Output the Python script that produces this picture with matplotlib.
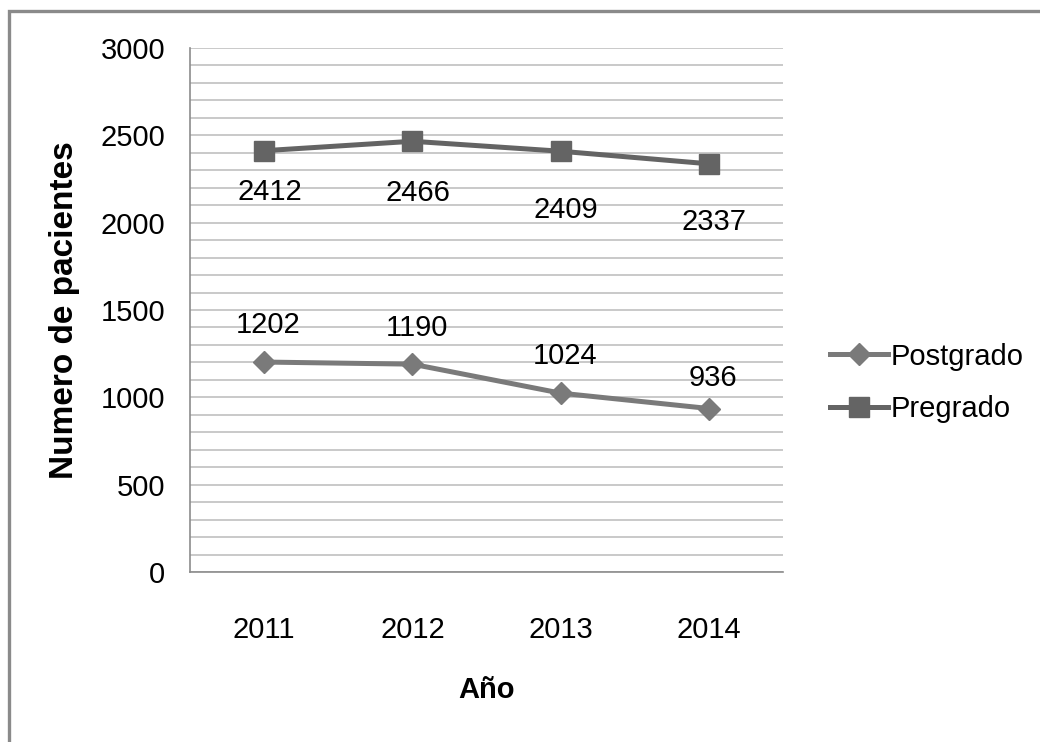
import matplotlib
matplotlib.use("Agg")
import matplotlib.pyplot as plt
from matplotlib.patches import Rectangle
import numpy as np

plt.rcParams['font.family'] = ['Liberation Sans', 'DejaVu Sans']

years = ['2011', '2012', '2013', '2014']
postgrado = [1202, 1190, 1024, 936]
pregrado = [2412, 2466, 2409, 2337]

# label offsets (points) - pregrado labels sit below, postgrado above
pre_offsets = [-30, -37, -42, -42]
post_offsets = [27, 26, 27, 22]

fig = plt.figure(figsize=(10.4, 7.42), dpi=100)
ax = fig.add_axes([190 / 1040, 1 - 572 / 742, 593 / 1040, 524 / 742])

x = np.arange(len(years))
ln_post, = ax.plot(x, postgrado, color='#7a7a7a', lw=3.6, marker='D', ms=11.5,
                   label='Postgrado', zorder=3)
ln_pre, = ax.plot(x, pregrado, color='#646464', lw=3.6, marker='s', ms=14.5,
                  label='Pregrado', zorder=3)

for i, v in enumerate(pregrado):
    ax.annotate(str(v), (x[i], v), xytext=(4, pre_offsets[i]), textcoords='offset points',
                ha='center', va='center', fontsize=21)
for i, v in enumerate(postgrado):
    ax.annotate(str(v), (x[i], v), xytext=(3, post_offsets[i]), textcoords='offset points',
                ha='center', va='center', fontsize=21)

ax.set_xlim(-0.5, 3.5)
ax.set_ylim(0, 3000)
ax.set_yticks(np.arange(0, 3001, 500))
ax.set_yticks(np.arange(0, 3001, 100), minor=True)
ax.set_xticks(x)
ax.set_xticklabels(years)
ax.grid(axis='y', which='both', color='#c0c0c0', lw=1.2)
ax.set_axisbelow(True)
ax.tick_params(axis='both', which='both', length=0, labelsize=21)
ax.tick_params(axis='y', pad=18)
ax.tick_params(axis='x', pad=32)
for s in ['top', 'right']:
    ax.spines[s].set_visible(False)
for s in ['left', 'bottom']:
    ax.spines[s].set_color('#8c8c8c')
    ax.spines[s].set_linewidth(1.2)

fig.text(65 / 1040, 1 - 310 / 742, 'Numero de pacientes', rotation=90, ha='center', va='center',
         fontsize=24, fontweight='bold')
fig.text(487 / 1040, 1 - 690 / 742, 'Año', ha='center', va='center', fontsize=21, fontweight='bold')

fig.legend(handles=[ln_post, ln_pre], loc='center left', bbox_to_anchor=(818 / 1040, 1 - 383 / 742),
           frameon=False, fontsize=21, handlelength=2.0, handletextpad=0.1, labelspacing=0.85,
           borderaxespad=0)

fig.patches.append(Rectangle((9 / 1040, -0.1), 1.2, 1 - 11 / 742 + 0.1, transform=fig.transFigure,
                             fill=False, edgecolor='#8a8a8a', lw=2.4))

fig.savefig('out.png', dpi=100)
